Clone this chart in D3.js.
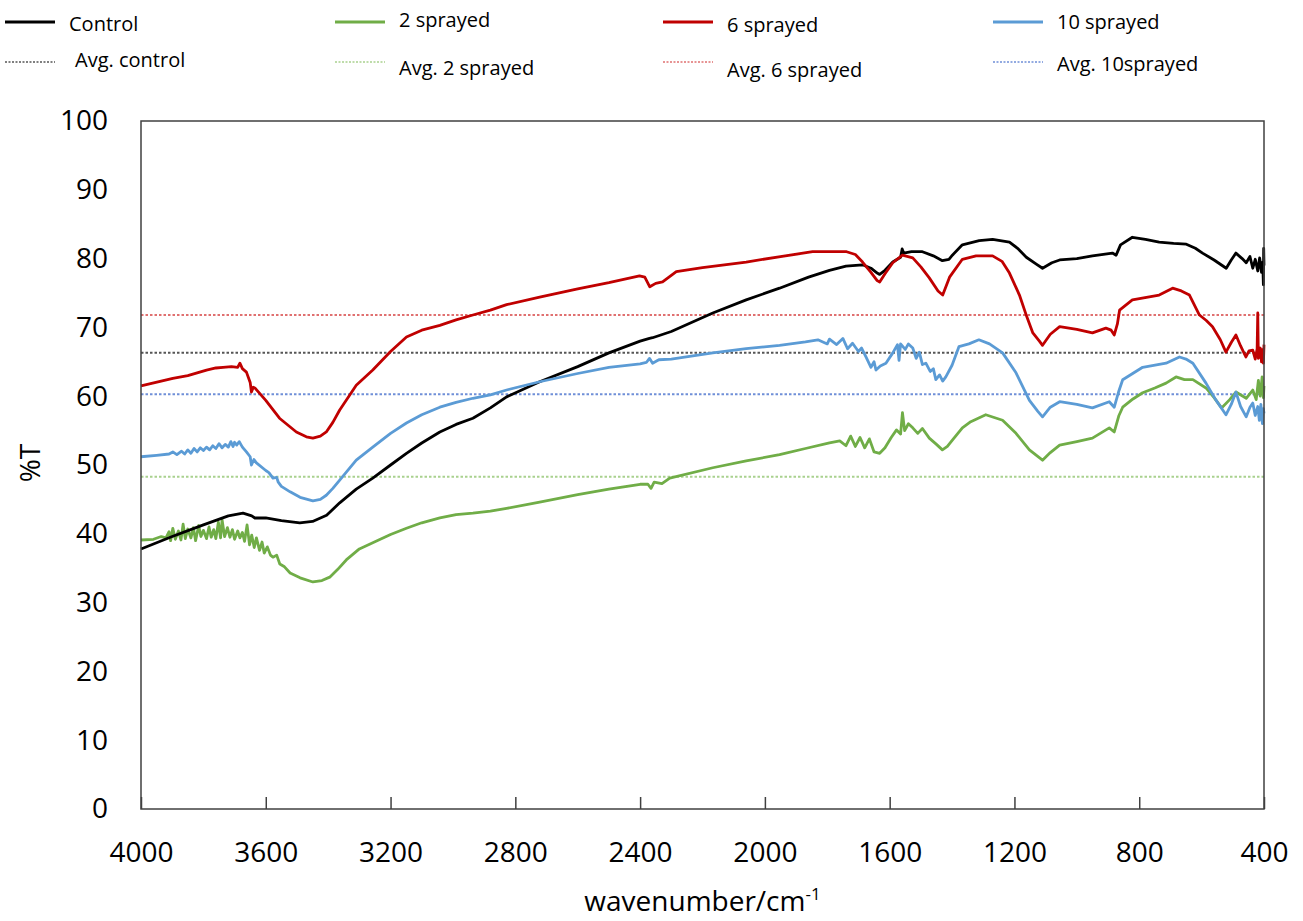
<!DOCTYPE html>
<html>
<head>
<meta charset="utf-8">
<script src="https://cdn.jsdelivr.net/npm/d3@7"></script>
<style>
    body { margin: 0; background: #fff; }
    text { font-family: "Open Sans", "DejaVu Sans", sans-serif; fill: #000; }
</style>
</head>
<body>
<script>
// series data: [wavenumber, %T]
const controlData = [[4000,37.8],[3900,39.6],[3800,41.3],[3720,42.6],[3673,43.0],[3645,42.6],[3635,42.3],[3600,42.3],[3550,41.9],[3491,41.6],[3450,41.8],[3405,42.7],[3363,44.5],[3310,46.5],[3257,48.1],[3200,50.0],[3149,51.7],[3100,53.2],[3042,54.8],[2990,55.9],[2936,56.8],[2880,58.3],[2828,59.9],[2722,62.1],[2600,64.3],[2500,66.3],[2400,68.0],[2370,68.4],[2360,68.5],[2300,69.4],[2167,72.1],[2060,74.0],[1953,75.7],[1860,77.3],[1793,78.3],[1740,78.9],[1687,79.1],[1660,78.6],[1640,77.9],[1632,77.7],[1615,78.3],[1590,79.5],[1565,80.2],[1560,81.4],[1555,80.8],[1530,81.0],[1495,81.0],[1460,80.4],[1431,79.7],[1410,79.9],[1399,80.5],[1367,82.0],[1313,82.6],[1270,82.8],[1216,82.4],[1190,81.5],[1162,80.2],[1130,79.2],[1110,78.6],[1080,79.4],[1055,79.8],[1000,80.0],[950,80.4],[886,80.8],[874,80.5],[860,82.0],[822,83.1],[780,82.8],[736,82.4],[690,82.2],[649,82.1],[620,81.5],[597,80.8],[560,79.8],[521,78.6],[505,79.8],[490,80.8],[470,80.0],[457,79.4],[445,80.3],[436,78.6],[428,79.9],[420,78.2],[414,80.1],[408,78.0],[404,79.5],[402,76.2],[401,81.5],[400,79.0]];

const spray2Data = [[4000,39.1],[3960,39.2],[3935,39.6],[3920,39.4],[3910,40.3],[3905,39.0],[3898,40.8],[3890,39.2],[3880,40.4],[3872,39.1],[3865,41.4],[3858,39.3],[3850,40.7],[3840,39.4],[3832,40.9],[3825,39.0],[3815,41.2],[3808,39.6],[3800,40.5],[3790,39.3],[3782,41.0],[3775,39.5],[3767,40.6],[3760,39.3],[3752,41.7],[3745,39.4],[3740,42.0],[3732,39.6],[3723,40.9],[3715,39.5],[3707,40.6],[3700,39.2],[3690,40.4],[3683,39.4],[3675,40.2],[3668,38.9],[3660,41.3],[3652,38.4],[3645,39.8],[3637,38.0],[3630,39.4],[3620,37.6],[3612,38.8],[3605,37.2],[3595,38.1],[3585,36.9],[3577,36.6],[3565,36.9],[3555,35.6],[3540,35.2],[3522,34.3],[3490,33.6],[3449,33.0],[3420,33.2],[3395,33.7],[3370,34.8],[3342,36.2],[3300,37.8],[3257,38.7],[3200,39.9],[3149,40.8],[3100,41.6],[3042,42.3],[2990,42.8],[2936,43.0],[2880,43.3],[2828,43.7],[2722,44.6],[2600,45.7],[2500,46.5],[2400,47.2],[2375,47.2],[2365,46.6],[2355,47.5],[2330,47.3],[2305,48.1],[2167,49.6],[2060,50.6],[1953,51.5],[1870,52.4],[1793,53.2],[1760,53.5],[1740,52.8],[1725,54.2],[1710,52.7],[1695,54.0],[1680,52.5],[1665,53.8],[1650,51.9],[1632,51.7],[1615,52.5],[1595,54.0],[1578,55.1],[1565,54.5],[1559,57.6],[1552,55.0],[1540,56.0],[1526,55.4],[1510,54.6],[1495,55.3],[1473,53.9],[1450,53.0],[1431,52.2],[1415,52.7],[1399,53.6],[1367,55.4],[1340,56.3],[1292,57.3],[1238,56.5],[1195,54.6],[1152,52.2],[1110,50.7],[1085,51.8],[1055,52.9],[1000,53.4],[950,53.9],[896,55.4],[880,54.8],[865,57.2],[853,58.4],[820,59.6],[789,60.5],[750,61.2],[714,61.9],[682,62.8],[655,62.4],[628,62.4],[586,61.2],[560,59.8],[536,58.3],[510,59.5],[490,60.6],[457,59.7],[436,60.9],[425,59.5],[418,62.3],[412,60.0],[406,62.8],[402,59.8],[400,61.5]];

const spray6Data = [[4000,61.5],[3898,62.6],[3850,63.0],[3790,63.8],[3760,64.1],[3737,64.2],[3710,64.3],[3690,64.2],[3683,64.8],[3675,64.0],[3662,63.5],[3650,62.0],[3646,60.6],[3640,61.3],[3635,61.2],[3600,59.4],[3556,56.8],[3502,54.8],[3470,54.1],[3449,53.9],[3425,54.2],[3406,54.8],[3385,56.2],[3363,58.0],[3310,61.6],[3257,63.8],[3200,66.5],[3149,68.6],[3100,69.6],[3042,70.3],[2990,71.1],[2936,71.8],[2880,72.5],[2828,73.3],[2722,74.4],[2600,75.6],[2500,76.5],[2402,77.5],[2385,77.3],[2369,75.9],[2350,76.4],[2328,76.6],[2284,78.1],[2200,78.7],[2060,79.5],[1950,80.3],[1847,81.0],[1738,81.0],[1710,80.6],[1687,79.5],[1660,78.0],[1640,76.8],[1632,76.6],[1615,77.8],[1590,79.4],[1559,80.5],[1526,80.1],[1500,78.8],[1473,77.2],[1445,75.3],[1430,74.7],[1408,77.3],[1367,79.9],[1323,80.4],[1270,80.4],[1240,79.6],[1216,77.9],[1184,74.7],[1160,71.5],[1141,69.2],[1120,68.0],[1110,67.4],[1085,69.0],[1055,70.1],[1000,69.7],[950,69.2],[907,69.9],[890,69.6],[880,68.9],[870,70.5],[863,72.5],[822,74.0],[736,74.7],[693,75.7],[665,75.3],[639,74.7],[607,71.8],[585,71.0],[565,70.1],[540,68.2],[522,66.4],[505,67.8],[490,68.9],[475,67.3],[458,65.7],[448,66.6],[436,66.7],[428,65.4],[422,66.9],[420,72.1],[418,65.5],[412,67.0],[408,65.0],[404,66.8],[402,64.8],[400,67.5]];

const spray10Data = [[4000,51.2],[3950,51.4],[3910,51.6],[3898,51.9],[3885,51.5],[3870,52.0],[3860,51.6],[3850,52.2],[3840,51.7],[3830,52.4],[3820,51.9],[3810,52.5],[3800,52.1],[3790,52.6],[3780,52.2],[3770,52.8],[3760,52.4],[3750,53.1],[3740,52.5],[3730,53.0],[3720,52.6],[3712,53.4],[3705,52.7],[3700,53.3],[3693,52.9],[3685,53.4],[3675,52.6],[3662,51.9],[3650,51.2],[3646,50.0],[3638,50.8],[3630,50.3],[3600,49.2],[3590,48.9],[3577,48.1],[3565,48.2],[3560,47.5],[3550,46.9],[3522,46.1],[3490,45.3],[3449,44.8],[3425,45.0],[3406,45.6],[3385,46.6],[3363,47.8],[3310,50.7],[3257,52.6],[3200,54.6],[3149,56.1],[3100,57.3],[3042,58.4],[2990,59.1],[2936,59.7],[2880,60.2],[2828,60.9],[2722,62.1],[2600,63.3],[2500,64.2],[2400,64.7],[2380,64.9],[2370,65.5],[2360,64.8],[2340,65.3],[2300,65.4],[2167,66.3],[2060,66.9],[1953,67.4],[1870,67.9],[1830,68.2],[1800,67.6],[1793,68.3],[1770,67.5],[1750,68.4],[1735,66.9],[1719,67.7],[1700,66.5],[1690,67.0],[1676,65.7],[1660,64.2],[1650,65.0],[1644,63.8],[1630,64.4],[1612,64.8],[1590,66.3],[1575,67.5],[1570,65.2],[1565,67.6],[1550,66.8],[1540,67.6],[1526,67.0],[1515,65.5],[1505,66.4],[1495,64.6],[1484,64.8],[1470,63.6],[1460,64.0],[1452,62.4],[1440,63.1],[1430,62.2],[1420,62.8],[1400,64.5],[1378,67.2],[1346,67.6],[1314,68.2],[1280,67.6],[1238,66.3],[1195,63.4],[1152,59.4],[1125,57.8],[1110,57.0],[1085,58.4],[1055,59.2],[1000,58.8],[950,58.3],[896,59.2],[880,58.4],[865,60.8],[853,62.4],[789,64.2],[714,64.8],[671,65.7],[650,65.4],[628,64.8],[586,61.9],[555,59.5],[522,57.3],[505,58.8],[490,60.6],[475,58.5],[457,57.0],[445,58.4],[436,59.0],[428,57.2],[420,58.5],[415,56.5],[410,58.8],[405,56.0],[402,58.2],[400,57.5]];

const seriesNames = ["Control", "2 sprayed", "6 sprayed", "10 sprayed"];
const avgNames = ["Avg. control", "Avg. 2 sprayed", "Avg. 6 sprayed", "Avg. 10sprayed"];
const avgValues = [66.3, 48.3, 71.8, 60.3];
const xTicks = [4000, 3600, 3200, 2800, 2400, 2000, 1600, 1200, 800, 400];
const yTicks = [0, 10, 20, 30, 40, 50, 60, 70, 80, 90, 100];

const colors = ["#000000", "#70ad47", "#c00000", "#5b9bd5"];
const avgColors = ["#555555", "#a9d18e", "#e07070", "#6f8fd8"];

// legend layout (hand placed text boxes in the original)
const legendCols = [5, 335, 663, 993];
const legendTextY = [24, 20, 25, 22];
const avgTextY = [60, 68, 70, 64];
const avgTextDx = [70, 64, 64, 64];

const W = 1303, H = 921;
const plot = { left: 141, right: 1264, top: 121, bottom: 809 };

const svg = d3.select("body").append("svg")
    .attr("width", W)
    .attr("height", H);

const x = d3.scaleLinear().domain([4000, 400]).range([plot.left, plot.right]);
const y = d3.scaleLinear().domain([0, 100]).range([plot.bottom, plot.top]);

// average (dotted) lines first, behind the spectra
svg.selectAll(".avg").data(avgValues).enter()
    .append("line")
    .attr("class", "avg")
    .attr("x1", x(4000)).attr("x2", x(400))
    .attr("y1", d => y(d)).attr("y2", d => y(d))
    .style("stroke", (d, i) => avgColors[i])
    .style("stroke-width", "2px")
    .style("stroke-dasharray", "2.5,2");

const line = d3.line()
    .x(d => x(d[0]))
    .y(d => y(d[1]));

const allSeries = [controlData, spray2Data, spray6Data, spray10Data];
// draw order: green under, then black, blue, red
[1, 0, 3, 2].forEach(i => {
    svg.append("path")
        .datum(allSeries[i])
        .attr("d", line)
        .style("fill", "none")
        .style("stroke", colors[i])
        .style("stroke-width", "2.8px")
        .style("stroke-linejoin", "round");
});

// frame
svg.append("rect")
    .attr("x", plot.left).attr("y", plot.top)
    .attr("width", plot.right - plot.left)
    .attr("height", plot.bottom - plot.top)
    .style("fill", "none")
    .style("stroke", "#404040")
    .style("stroke-width", "1.5px");

// x axis, ticks pointing inward
const xAxis = d3.axisBottom(x).tickValues(xTicks).tickSize(-12).tickPadding(33).tickFormat(d3.format("d"));
const gx = svg.append("g")
    .attr("transform", "translate(0," + plot.bottom + ")")
    .call(xAxis);
gx.select(".domain").remove();
gx.selectAll(".tick line").style("stroke", "#404040").style("stroke-width", "1.5px");
gx.selectAll("text")
    .style("font-size", "28px")
    .attr("dy", "0.71em");

const yAxis = d3.axisLeft(y).tickValues(yTicks).tickSize(0).tickPadding(33);
const gy = svg.append("g")
    .attr("transform", "translate(" + plot.left + ",0)")
    .call(yAxis);
gy.select(".domain").remove();
gy.selectAll("text").style("font-size", "28px");

svg.append("text")
    .attr("transform", "translate(40,463) rotate(-90)")
    .attr("text-anchor", "middle")
    .style("font-size", "28px")
    .text("%T");

const xTitle = svg.append("text")
    .attr("x", (plot.left + plot.right) / 2)
    .attr("y", 911)
    .attr("text-anchor", "middle")
    .style("font-size", "28px");
xTitle.append("tspan").text("wavenumber/cm");
xTitle.append("tspan").attr("dy", -11).style("font-size", "17px").text("-1");

// legend, 4 columns x 2 rows
const legend = svg.append("g").attr("class", "legend");
seriesNames.forEach((name, i) => {
    const lx = legendCols[i];
    legend.append("line")
        .attr("x1", lx).attr("x2", lx + 50)
        .attr("y1", 22).attr("y2", 22)
        .style("stroke", colors[i])
        .style("stroke-width", "2.8px");
    legend.append("text")
        .attr("x", lx + 64).attr("y", legendTextY[i])
        .attr("dy", "0.35em")
        .style("font-size", "20px")
        .text(name);
});
avgNames.forEach((name, i) => {
    const lx = legendCols[i];
    legend.append("line")
        .attr("x1", lx).attr("x2", lx + 50)
        .attr("y1", 62).attr("y2", 62)
        .style("stroke", avgColors[i])
        .style("stroke-width", "1.4px")
        .style("stroke-dasharray", "2,1.5");
    legend.append("text")
        .attr("x", lx + avgTextDx[i]).attr("y", avgTextY[i])
        .attr("dy", "0.35em")
        .style("font-size", "20px")
        .text(name);
});
</script>
</body>
</html>
